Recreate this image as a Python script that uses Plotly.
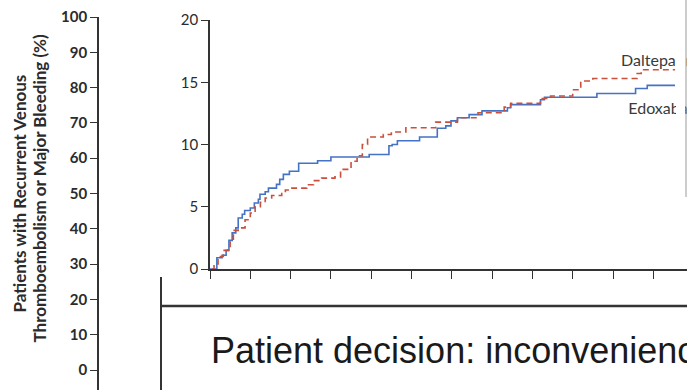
import plotly.graph_objects as go

W, H = 687, 390

# ---- data ----
outer_ticks = [0, 10, 20, 30, 40, 50, 60, 70, 80, 90, 100]
inset_yticks = [0, 5, 10, 15, 20]

edox_x = [0, 0.12, 0.17, 0.3, 0.4, 0.47, 0.55, 0.64, 0.7, 0.8, 0.86, 1.0, 1.1, 1.2, 1.24,
          1.37, 1.45, 1.65, 1.73, 1.82, 1.97, 2.2, 2.67, 3.0, 3.95, 4.44, 4.52, 4.65, 5.2,
          5.64, 5.85, 5.98, 6.14, 6.43, 6.75, 7.38, 7.46, 8.2, 8.3, 9.6, 10.56, 10.85, 11.54]
edox_y = [0, 0, 0.9, 1.1, 1.5, 2.3, 2.9, 3.3, 4.1, 4.4, 4.7, 4.9, 5.3, 5.6, 6.0,
          6.2, 6.5, 6.8, 7.2, 7.6, 7.85, 8.5, 8.7, 9.0, 9.2, 9.9, 10.0, 10.3, 10.6,
          11.3, 11.5, 11.9, 12.15, 12.4, 12.7, 12.95, 13.2, 13.6, 13.8, 14.1, 14.5, 14.75, 14.75]

dalt_x = [0.05, 0.1, 0.2, 0.33, 0.45, 0.5, 0.58, 0.7, 0.87, 1.0, 1.12, 1.25, 1.37, 1.53,
          1.78, 1.87, 2.0, 2.4, 2.57, 2.77, 3.1, 3.24, 3.5, 3.65, 3.78, 3.91, 4.3, 4.5,
          4.86, 5.6, 6.14, 6.65, 7.3, 7.46, 8.2, 8.45, 9.0, 9.2, 9.5, 10.6, 10.7, 11.54]
dalt_y = [0, 0.4, 1.0, 1.5, 1.7, 2.4, 3.1, 3.3, 3.95, 4.5, 5.0, 5.35, 5.7, 5.9,
          6.15, 6.35, 6.5, 6.77, 7.1, 7.3, 7.4, 8.0, 8.65, 9.1, 10.0, 10.6, 10.8, 11.0,
          11.35, 11.8, 12.15, 12.55, 13.0, 13.3, 13.7, 13.9, 14.4, 15.1, 15.3, 15.7, 16.0, 16.0]

series_labels = ["Dalteparin", "Edoxaban"]
label_x = [10.2, 10.38]
label_y = [16.65, 12.75]

y_title_lines = ["Patients with Recurrent Venous", "Thromboembolism or Major Bleeding (%)"]
slide_text = "Patient decision: inconvenience"

BLUE = "#4472c4"
RED = "#c8503c"
DARK = "#333333"
TXT = "#2b2b2b"


def fx(px):
    return px / W


def fy(py):
    return 1 - py / H


fig = go.Figure()

# outer axis (background figure)
fig.add_trace(go.Scatter(x=[], y=[], xaxis="x", yaxis="y", showlegend=False))

# inset KM curves
fig.add_trace(go.Scatter(x=edox_x, y=edox_y, mode="lines", line=dict(color=BLUE, width=1.6, shape="hv"),
                         xaxis="x2", yaxis="y2", showlegend=False))
fig.add_trace(go.Scatter(x=dalt_x, y=dalt_y, mode="lines",
                         line=dict(color=RED, width=1.6, shape="hv", dash="6px,4px"),
                         xaxis="x2", yaxis="y2", showlegend=False))
fig.add_trace(go.Scatter(x=label_x, y=label_y, mode="text", text=series_labels,
                         textposition="middle right",
                         textfont=dict(family="Lato", size=16, color="#3a3a3a"),
                         xaxis="x2", yaxis="y2", showlegend=False))

x_per_month = 40.3
fig.update_layout(
    width=W, height=H, autosize=False,
    margin=dict(l=0, r=0, t=0, b=0, pad=0),
    paper_bgcolor="white", plot_bgcolor="rgba(0,0,0,0)",
    xaxis=dict(domain=[fx(99), 1], range=[0, 1], visible=False, automargin=False),
    yaxis=dict(domain=[0, fy(17)], range=[-(390 - 370) / 3.53, 100], anchor="x", automargin=False,
               showline=True, linecolor=DARK, linewidth=1.6, ticks="outside", ticklen=7,
               tickwidth=1.4, tickcolor=DARK, tickvals=outer_ticks, showgrid=False, zeroline=False,
               tickfont=dict(family="Lato", size=15, color=TXT, weight="bold")),
    xaxis2=dict(domain=[fx(210), 1], range=[0, (W - 210) / x_per_month], anchor="y2", automargin=False,
                showline=True, linecolor=DARK, linewidth=1.6, ticks="outside", ticklen=8,
                tickwidth=1.4, tickcolor=DARK, tick0=0, dtick=1, showticklabels=False,
                showgrid=False, zeroline=False),
    yaxis2=dict(domain=[fy(269), fy(20)], range=[0, 20], anchor="x2", automargin=False,
                showline=True, linecolor=DARK, linewidth=1.6, ticks="outside", ticklen=7,
                tickwidth=1.4, tickcolor=DARK, tickvals=inset_yticks, showgrid=False, zeroline=False,
                tickfont=dict(family="Lato", size=15, color=TXT)),
)

shapes = [
    # white mask clipping the curve labels
    dict(type="rect", xref="paper", yref="paper", x0=fx(676), x1=fx(685), y0=fy(130), y1=fy(30),
         fillcolor="white", line=dict(width=0), layer="above"),
    # right grey edge
    dict(type="line", xref="paper", yref="paper", x0=fx(686), x1=fx(686), y0=fy(0), y1=fy(197),
         line=dict(color="#9a9a9a", width=1)),
    # slide frame lines
    dict(type="line", xref="paper", yref="paper", x0=fx(161), x1=fx(161), y0=fy(277), y1=fy(390),
         line=dict(color=DARK, width=2)),
    dict(type="line", xref="paper", yref="paper", x0=fx(161), x1=fx(687), y0=fy(306), y1=fy(306),
         line=dict(color=DARK, width=2.5)),
]
fig.update_layout(shapes=shapes)

annotations = [
    dict(text=y_title_lines[0], x=fx(18.5), y=fy(194), xref="paper", yref="paper", textangle=-90,
         showarrow=False, xanchor="center", yanchor="middle",
         font=dict(family="Lato", size=17, color=TXT, weight="bold")),
    dict(text=y_title_lines[1], x=fx(38.5), y=fy(188), xref="paper", yref="paper", textangle=-90,
         showarrow=False, xanchor="center", yanchor="middle",
         font=dict(family="Lato", size=17, color=TXT, weight="bold")),
    dict(text=slide_text, x=fx(209), y=fy(350), xref="paper", yref="paper", showarrow=False,
         xanchor="left", yanchor="middle",
         font=dict(family="Liberation Sans", size=36, color="#1a1a1a")),
]
fig.update_layout(annotations=annotations)

fig.write_html("out.html", config={"displayModeBar": False},
               post_script="document.body.style.margin='0';document.body.style.overflow='hidden';")
